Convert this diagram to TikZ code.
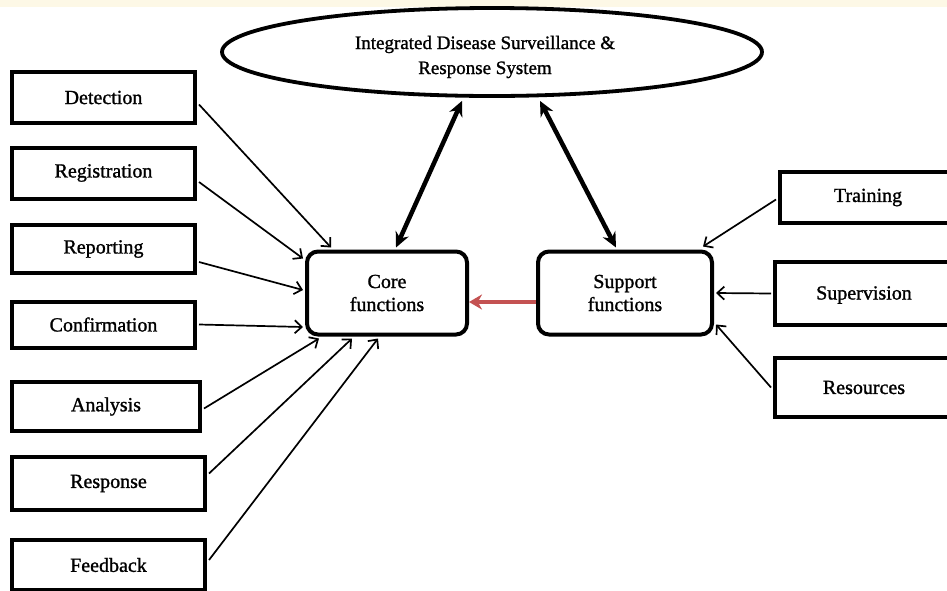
\documentclass[tikz,border=0pt]{standalone}
\usepackage{fontspec}
\setmainfont{Liberation Serif}[BoldFont={Liberation Serif}, BoldFeatures={FakeBold=1.2}]
\usetikzlibrary{arrows.meta,shapes.geometric}
\definecolor{redarrow}{RGB}{196,82,82}
\definecolor{topstrip}{RGB}{253,248,230}
\begin{document}
\begin{tikzpicture}[x=1pt,y=-1pt,
  every node/.style={font=\bfseries},
  sqbox/.style={draw, line width=4pt, inner sep=0pt, minimum height=51pt,
    font=\fontsize{20}{24}\selectfont\bfseries},
  funcbox/.style={draw, line width=4pt, rounded corners=11pt, inner sep=0pt,
    minimum width=160pt, minimum height=83pt, align=center,
    font=\fontsize{20}{23}\selectfont\bfseries},
  boxtext/.style={font=\fontsize{20}{24}\selectfont\bfseries},
  thinarrow/.style={line width=1.7pt, -{Straight Barb[length=7pt,width=13pt]}},
  bigarrow/.style={line width=4.5pt, {Stealth[length=15pt,width=14pt]}-{Stealth[length=15pt,width=14pt]}},
  redarr/.style={line width=4pt, draw=redarrow, -{Stealth[length=13pt,width=15pt]}}
]
\useasboundingbox (0,0) rectangle (947,590);
\fill[white] (0,0) rectangle (947,590);
\fill[topstrip] (0,0) rectangle (947,7);

% ellipse
\node[draw, ellipse, line width=3.8pt, minimum width=540pt, minimum height=88pt, inner sep=0pt] (ell) at (492,52) {};
\node[align=center, font=\fontsize{19}{25}\selectfont\bfseries] (elltext) at (485,57) {Integrated Disease Surveillance \&\\Response System};

% central boxes
\node[funcbox] (core) at (387,293) {Core\\functions};
\node[funcbox, minimum width=174pt] (sup) at (625,293) {Support\\functions};

% left boxes
\node[sqbox, minimum width=183pt] (det) at (103.5,97.5) {Detection};
\node[sqbox, minimum width=183pt] (reg) at (103.5,173) {Registration};
\node[sqbox, minimum width=183pt, minimum height=48pt] (rep) at (103.5,249) {Reporting};
\node[sqbox, minimum width=183pt, minimum height=46pt] (con) at (103.5,324.5) {Confirmation};
\node[sqbox, minimum width=188pt, minimum height=49pt] (ana) at (106,406.5) {Analysis};
\node[sqbox, minimum width=193pt, minimum height=53pt] (res) at (108.5,483.5) {Response};
\node[sqbox, minimum width=193pt, minimum height=50pt] (fee) at (108.5,565) {Feedback};

% right boxes
\node[sqbox, minimum width=169pt] (tra) at (864.5,197.5) {};
\node[boxtext] (tratext) at (868,197.5) {Training};
\node[sqbox, minimum width=174pt, minimum height=63pt] (sv) at (862,293.5) {};
\node[boxtext] (svtext) at (864,295) {Supervision};
\node[sqbox, minimum width=174pt, minimum height=59pt] (rs) at (862,387.5) {};
\node[boxtext] (rstext) at (864,387.5) {Resources};

% big double arrows
\draw[bigarrow] ([xshift=-30pt,yshift=-3pt]ell.south) -- ([xshift=9pt,yshift=2pt]core.north);
\draw[bigarrow] ([xshift=48pt,yshift=-3pt]ell.south) -- ([xshift=-9pt,yshift=2pt]sup.north);

% red arrow
\draw[redarr] ([yshift=-9pt]sup.west) -- ([yshift=-9pt]core.east);

% left arrows
\draw[thinarrow] ([xshift=2pt,yshift=-7pt]det.east) -- ([xshift=26pt,yshift=2pt]core.north west);
\draw[thinarrow] ([xshift=2pt,yshift=-9pt]reg.east) -- ([xshift=-2pt,yshift=-9pt]core.north west);
\draw[thinarrow] ([xshift=2pt,yshift=-13pt]rep.east) -- ([xshift=-2pt,yshift=3pt]core.west);
\draw[thinarrow] ([xshift=2pt]con.east) -- ([xshift=-2pt,yshift=9.5pt]core.south west);
\draw[thinarrow] ([xshift=2pt,yshift=-2pt]ana.east) -- ([xshift=14pt,yshift=-2pt]core.south west);
\draw[thinarrow] ([xshift=2pt,yshift=10pt]res.east) -- ([xshift=47pt,yshift=-2pt]core.south west);
\draw[thinarrow] ([xshift=2pt,yshift=5pt]fee.east) -- ([xshift=73pt,yshift=-2pt]core.south west);

% right arrows
\draw[thinarrow] ([xshift=-2pt,yshift=-2pt]tra.west) -- ([xshift=-11pt,yshift=3pt]sup.north east);
\draw[thinarrow] ([xshift=-2pt]sv.west) -- ([xshift=2pt]sup.east);
\draw[thinarrow] ([xshift=-2pt]rs.west) -- ([xshift=2pt,yshift=12pt]sup.south east);
\end{tikzpicture}
\end{document}
